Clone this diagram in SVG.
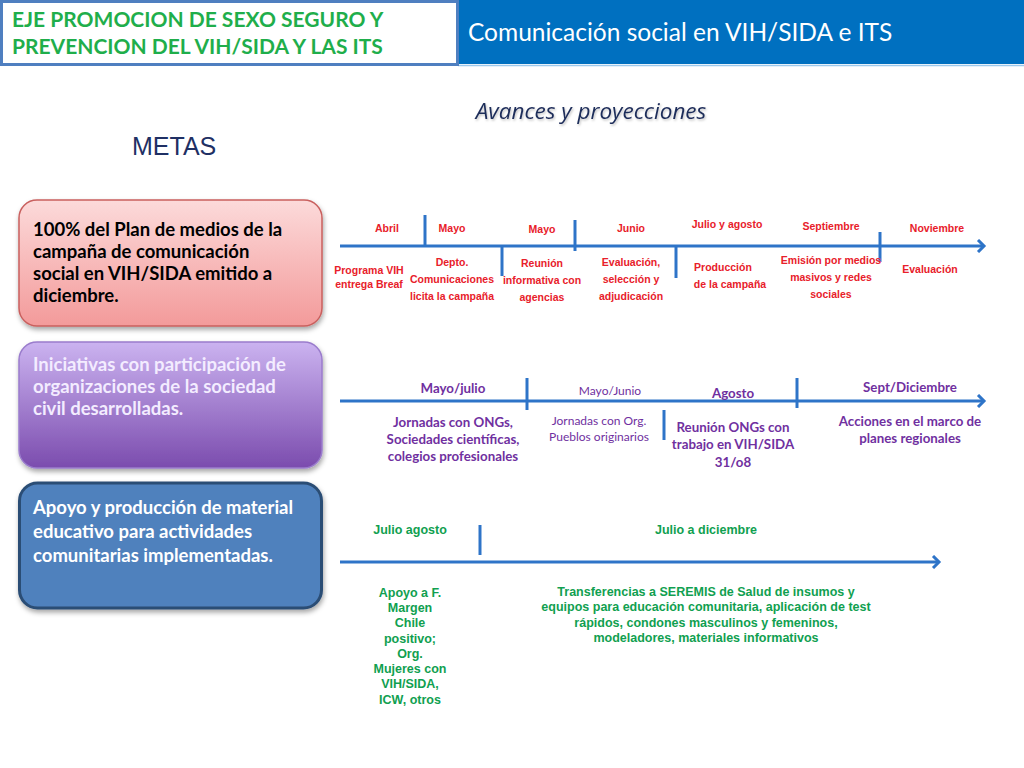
<svg xmlns="http://www.w3.org/2000/svg" width="1024" height="768" viewBox="0 0 1024 768">
<style>
.hdr{font-family:Lato,"Liberation Sans",sans-serif;font-weight:bold;font-size:21px;fill:#1fae4b}
.ttl{font-family:Lato,"Liberation Sans",sans-serif;font-size:24.5px;fill:#fff}
.box{font-family:Lato,"Open Sans",sans-serif;font-weight:bold;font-size:18.5px}
.red{font-family:"Liberation Sans",sans-serif;font-weight:bold;font-size:10.5px;fill:#e8202a;text-anchor:middle}
.pur{font-family:Lato,"Liberation Sans",sans-serif;font-weight:bold;font-size:13.3px;fill:#7030a0;text-anchor:middle}
.purl{font-family:Lato,"Liberation Sans",sans-serif;font-size:12px;fill:#7030a0;text-anchor:middle}
.grn{font-family:"Liberation Sans",sans-serif;font-weight:bold;font-size:12.5px;fill:#10a050;text-anchor:middle}
.tl{stroke:#2e74c8;stroke-width:3;fill:none}
.tk{stroke:#2e74c8;stroke-width:3}
</style>
<defs>
<marker id="arr" markerWidth="12" markerHeight="14" refX="8" refY="7" orient="auto" markerUnits="userSpaceOnUse">
<path d="M2,1 L8,7 L2,13" fill="none" stroke="#2e74c8" stroke-width="3"/>
</marker>
<linearGradient id="gPink" x1="0" y1="0" x2="0" y2="1"><stop offset="0" stop-color="#fcdada"/><stop offset="1" stop-color="#f39a9a"/></linearGradient>
<linearGradient id="gPur" x1="0" y1="0" x2="0" y2="1"><stop offset="0" stop-color="#cbb3f0"/><stop offset="1" stop-color="#7b4cae"/></linearGradient>
<filter id="sh" x="-10%" y="-10%" width="130%" height="140%"><feDropShadow dx="1" dy="3" stdDeviation="2.5" flood-color="#000" flood-opacity="0.35"/></filter>
<filter id="tsh" x="-5%" y="-20%" width="110%" height="150%"><feDropShadow dx="1" dy="1.5" stdDeviation="1" flood-color="#000" flood-opacity="0.25"/></filter>
</defs>
<rect width="1024" height="768" fill="#fff"/>
<g id="header">
<rect x="458" y="0" width="566" height="64" fill="#0070c0"/>
<line x1="458" y1="65.5" x2="1024" y2="65.5" stroke="#9cc8ec" stroke-width="1.5"/>
<rect x="1.5" y="1.5" width="456" height="63" fill="#fff" stroke="#4f7fc0" stroke-width="3"/>
<text class="hdr" x="12" y="27">EJE PROMOCION DE SEXO SEGURO Y</text>
<text class="hdr" x="12" y="54">PREVENCION DEL VIH/SIDA Y LAS ITS</text>
<text class="ttl" x="468" y="41">Comunicación social en VIH/SIDA e ITS</text>
</g>
<text x="591" y="119" text-anchor="middle" font-family="'Open Sans',sans-serif" font-style="italic" font-size="22.5" fill="#1f2d5a" filter="url(#tsh)">Avances  y proyecciones</text>
<text x="132" y="155" font-family="'Liberation Sans',sans-serif" font-size="25" fill="#1f3064">METAS</text>
<g id="meta1">
<rect x="19" y="200" width="303" height="126" rx="18" fill="url(#gPink)" stroke="#c9605e" stroke-width="1.5" filter="url(#sh)"/>
<text class="box" fill="#000"><tspan x="33" y="236">100% del Plan de medios de la</tspan><tspan x="33" y="258">campaña de comunicación</tspan><tspan x="33" y="280">social en VIH/SIDA emitido a</tspan><tspan x="33" y="302">diciembre.</tspan></text>
</g>
<g id="meta2">
<rect x="19" y="342" width="303" height="126" rx="18" fill="url(#gPur)" stroke="#9a7ccc" stroke-width="1.5" filter="url(#sh)"/>
<text class="box" fill="#f3ecff"><tspan x="33" y="371">Iniciativas con participación de</tspan><tspan x="33" y="393">organizaciones de la sociedad</tspan><tspan x="33" y="415">civil desarrolladas.</tspan></text>
</g>
<g id="meta3">
<rect x="19.5" y="483" width="302" height="125" rx="18" fill="#4f81bd" stroke="#2c4d75" stroke-width="3" filter="url(#sh)"/>
<text class="box" fill="#fff" font-size="19"><tspan x="33" y="514">Apoyo y producción de material</tspan><tspan x="33" y="538">educativo para actividades</tspan><tspan x="33" y="562">comunitarias implementadas.</tspan></text>
</g>
<g id="connectors">
<line class="tl" x1="340" y1="246" x2="984" y2="246" marker-end="url(#arr)"/>
<line class="tk" x1="425" y1="215" x2="425" y2="246" stroke-width="4"/>
<line class="tk" x1="502" y1="246" x2="502" y2="276"/>
<line class="tk" x1="575" y1="220" x2="575" y2="251"/>
<line class="tk" x1="676" y1="246" x2="676" y2="278"/>
<line class="tk" x1="880" y1="232" x2="880" y2="262"/>
<line class="tl" x1="340" y1="401" x2="984" y2="401" marker-end="url(#arr)"/>
<line class="tk" x1="527" y1="378" x2="527" y2="410"/>
<line class="tk" x1="664" y1="410" x2="664" y2="440" stroke-width="5"/>
<line class="tk" x1="797" y1="378" x2="797" y2="408"/>
<line class="tl" x1="340" y1="562" x2="939" y2="562" marker-end="url(#arr)"/>
<line class="tk" x1="480" y1="525" x2="480" y2="555"/>
</g>
<g id="timeline1">
<text class="red" x="387" y="232">Abril</text>
<text class="red" x="452" y="232">Mayo</text>
<text class="red" x="542" y="233">Mayo</text>
<text class="red" x="631" y="232">Junio</text>
<text class="red" x="727" y="228" font-size="9" font-weight="normal">Julio y agosto</text>
<text class="red" x="831" y="230">Septiembre</text>
<text class="red" x="937" y="232">Noviembre</text>
<text class="red" x="369" y="274" font-size="9.5">Programa VIH</text>
<text class="red" x="369" y="288" font-size="9.5">entrega Breaf</text>
<text class="red"><tspan x="452" y="266">Depto.</tspan><tspan x="452" y="283">Comunicaciones</tspan><tspan x="452" y="300">licita la campaña</tspan></text>
<text class="red"><tspan x="542" y="267">Reunión</tspan><tspan x="542" y="284">informativa con</tspan><tspan x="542" y="301">agencias</tspan></text>
<text class="red"><tspan x="631" y="266">Evaluación,</tspan><tspan x="631" y="283">selección y</tspan><tspan x="631" y="300">adjudicación</tspan></text>
<text class="red"><tspan x="723" y="271">Producción</tspan><tspan x="730" y="288">de la campaña</tspan></text>
<text class="red"><tspan x="831" y="264">Emisión por medios</tspan><tspan x="831" y="281">masivos y redes</tspan><tspan x="831" y="298">sociales</tspan></text>
<text class="red" x="930" y="273">Evaluación</text>
</g>
<g id="timeline2">
<text class="pur" x="453" y="393">Mayo/julio</text>
<text class="purl" x="610" y="395">Mayo/Junio</text>
<text class="pur" x="733" y="398">Agosto</text>
<text class="pur" x="910" y="392">Sept/Diciembre</text>
<text class="pur"><tspan x="453" y="427">Jornadas con ONGs,</tspan><tspan x="453" y="444">Sociedades científicas,</tspan><tspan x="453" y="461">colegios profesionales</tspan></text>
<text class="purl"><tspan x="599" y="425">Jornadas con Org.</tspan><tspan x="599" y="441">Pueblos originarios</tspan></text>
<text class="pur"><tspan x="733" y="432">Reunión ONGs con</tspan><tspan x="733" y="449">trabajo en VIH/SIDA</tspan><tspan x="733" y="467">31/o8</tspan></text>
<text class="pur"><tspan x="910" y="426">Acciones en el marco de</tspan><tspan x="910" y="443">planes regionales</tspan></text>
</g>
<g id="timeline3">
<text class="grn" x="410" y="534">Julio agosto</text>
<text class="grn" x="706" y="534">Julio a diciembre</text>
<text class="grn"><tspan x="410" y="597">Apoyo a F.</tspan><tspan x="410" y="612">Margen</tspan><tspan x="410" y="627">Chile</tspan><tspan x="410" y="643">positivo;</tspan><tspan x="410" y="658">Org.</tspan><tspan x="410" y="673">Mujeres con</tspan><tspan x="410" y="688">VIH/SIDA,</tspan><tspan x="410" y="704">ICW, otros</tspan></text>
<text class="grn" font-size="13.3"><tspan x="706" y="596">Transferencias a SEREMIS de Salud  de insumos y</tspan><tspan x="706" y="611">equipos para educación comunitaria, aplicación de  test</tspan><tspan x="706" y="627">rápidos, condones masculinos y femeninos,</tspan><tspan x="706" y="642">modeladores, materiales informativos</tspan></text>
</g>
</svg>
